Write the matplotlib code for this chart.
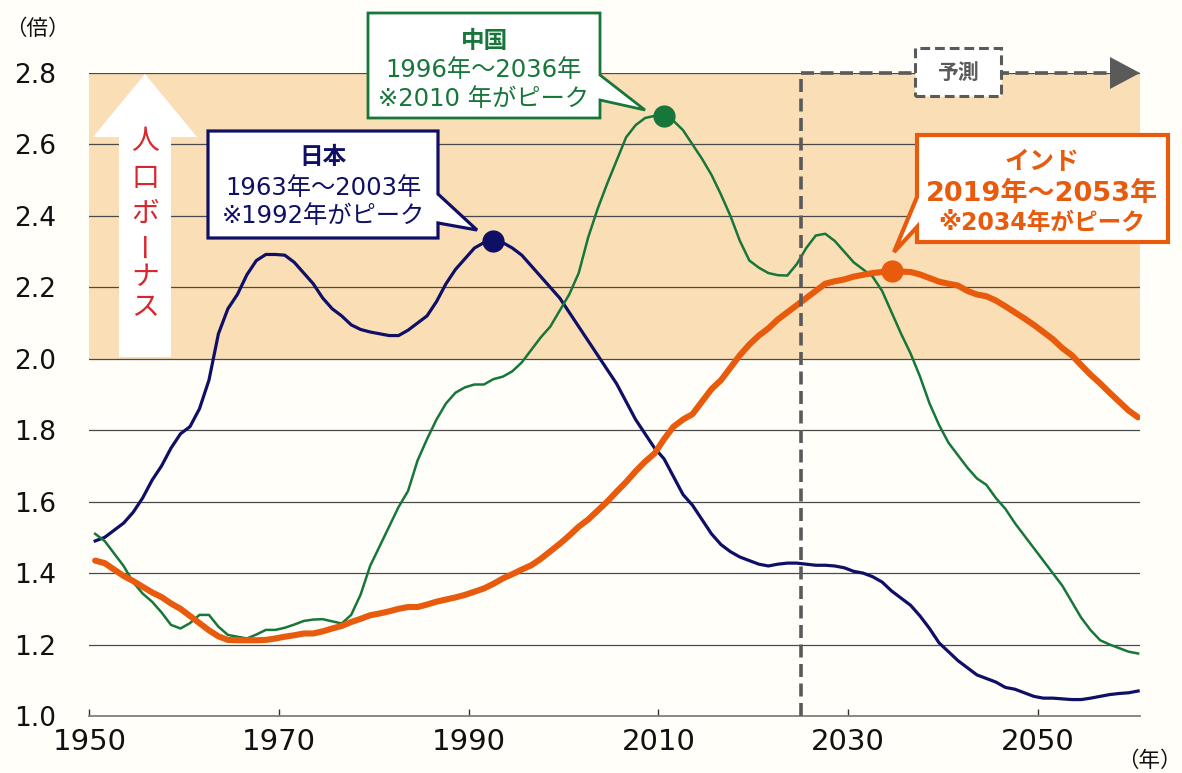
import matplotlib
matplotlib.use("Agg")
import matplotlib.pyplot as plt
from matplotlib.patches import Polygon, Rectangle

plt.rcParams['font.family'] = ['DejaVu Sans', 'Noto Sans CJK JP']

# ---------------- data ----------------
years = list(range(1950, 2061))

japan = [
    1.49, 1.50, 1.52, 1.54, 1.57, 1.61, 1.66, 1.70, 1.75, 1.79,
    1.81, 1.86, 1.94, 2.07, 2.14, 2.18, 2.235, 2.275, 2.292, 2.292,
    2.29, 2.27, 2.24, 2.21, 2.17, 2.14, 2.12, 2.095, 2.082, 2.075,
    2.07, 2.065, 2.065, 2.08, 2.10, 2.12, 2.16, 2.21, 2.25, 2.28,
    2.31, 2.325, 2.33, 2.325, 2.31, 2.29, 2.26, 2.23, 2.20, 2.17,
    2.13, 2.09, 2.05, 2.01, 1.97, 1.93, 1.88, 1.83, 1.79, 1.75,
    1.72, 1.67, 1.62, 1.59, 1.55, 1.51, 1.48, 1.46, 1.445, 1.435,
    1.425, 1.42, 1.425, 1.428, 1.428, 1.425, 1.422, 1.422, 1.42, 1.415,
    1.405, 1.40, 1.39, 1.375, 1.35, 1.33, 1.31, 1.28, 1.245, 1.205,
    1.18, 1.155, 1.135, 1.115, 1.105, 1.095, 1.08, 1.075, 1.065, 1.055,
    1.05, 1.05, 1.048, 1.046, 1.046, 1.05, 1.055, 1.06, 1.063, 1.065,
    1.07,
]

china = [
    1.51, 1.49, 1.455, 1.42, 1.375, 1.343, 1.32, 1.29, 1.255, 1.245,
    1.26, 1.283, 1.283, 1.25, 1.227, 1.222, 1.217, 1.228, 1.241, 1.241,
    1.247, 1.256, 1.266, 1.27, 1.271, 1.265, 1.259, 1.283, 1.34, 1.42,
    1.475, 1.53, 1.585, 1.63, 1.715, 1.775, 1.83, 1.875, 1.905, 1.92,
    1.928, 1.928, 1.943, 1.95, 1.965, 1.99, 2.025, 2.06, 2.09, 2.135,
    2.18, 2.24, 2.34, 2.42, 2.49, 2.555, 2.62, 2.654, 2.674, 2.68,
    2.68, 2.666, 2.64, 2.60, 2.56, 2.515, 2.46, 2.40, 2.33, 2.275,
    2.255, 2.24, 2.234, 2.233, 2.265, 2.31, 2.345, 2.35, 2.33, 2.30,
    2.27, 2.25, 2.23, 2.19, 2.13, 2.07, 2.015, 1.95, 1.875, 1.815,
    1.765, 1.73, 1.695, 1.665, 1.647, 1.61, 1.58, 1.54, 1.505, 1.47,
    1.435, 1.40, 1.365, 1.32, 1.275, 1.24, 1.212, 1.20, 1.19, 1.18,
    1.175,
]

india = [
    1.435, 1.428, 1.41, 1.392, 1.378, 1.362, 1.346, 1.333, 1.315, 1.30,
    1.28, 1.26, 1.24, 1.223, 1.213, 1.212, 1.212, 1.212, 1.213, 1.217,
    1.222, 1.226, 1.231, 1.231, 1.237, 1.245, 1.252, 1.263, 1.272, 1.282,
    1.287, 1.293, 1.30, 1.305, 1.305, 1.312, 1.32, 1.326, 1.332, 1.339,
    1.348, 1.357, 1.37, 1.385, 1.397, 1.41, 1.422, 1.44, 1.461, 1.482,
    1.505, 1.53, 1.55, 1.575, 1.60, 1.628, 1.655, 1.685, 1.712, 1.735,
    1.775, 1.81, 1.83, 1.845, 1.88, 1.915, 1.94, 1.975, 2.01, 2.04,
    2.065, 2.085, 2.11, 2.13, 2.15, 2.17, 2.19, 2.21, 2.217, 2.222,
    2.23, 2.235, 2.24, 2.243, 2.245, 2.244, 2.243, 2.236, 2.226, 2.216,
    2.21, 2.205, 2.19, 2.18, 2.175, 2.163, 2.147, 2.13, 2.113, 2.095,
    2.075, 2.055, 2.03, 2.01, 1.982, 1.955, 1.931, 1.905, 1.88, 1.855,
    1.836,
]

peak_years = {"japan": 1992, "china": 2010, "india": 2034}
xtick_years = [1950, 1970, 1990, 2010, 2030, 2050]
yticks = [1.0, 1.2, 1.4, 1.6, 1.8, 2.0, 2.2, 2.4, 2.6, 2.8]
bonus_threshold = 2.0
forecast_from = 2024.45

# ---------------- style ----------------
W, H = 1182, 773
BG = '#FFFEF9'
BAND = '#FADEB5'
NAVY = '#0F0F66'
GREEN = '#17763A'
ORANGE = '#E85A0C'
RED = '#D9262C'
GRAY = '#5A5A5A'
CJK = ['Noto Sans CJK JP', 'DejaVu Sans']
MIX = ['DejaVu Sans', 'Noto Sans CJK JP']

fig = plt.figure(figsize=(W / 100, H / 100), dpi=100, facecolor=BG)
ax = fig.add_axes([89 / W, 57 / H, 1051 / W, 643 / H])
ax.set_facecolor(BG)


def fx(px):
    return px / W


def fy(py):
    return 1 - py / H


def fpts(pts):
    return [(fx(x), fy(y)) for x, y in pts]


ax.set_xlim(1949.35, 2060.2)
ax.set_ylim(1.0, 2.8)

# demographic-bonus band
ax.axhspan(bonus_threshold, 2.8, color=BAND, zorder=0, lw=0)

# grid
ax.set_yticks(yticks)
ax.set_yticklabels([f"{v:.1f}" for v in yticks])
ax.yaxis.grid(True, color='#4a4a4a', lw=0.9)
ax.set_axisbelow(True)
ax.tick_params(axis='y', length=0, pad=24, labelsize=19, labelcolor='#111111')

ax.set_xticks([y - 0.6 for y in xtick_years])
ax.set_xticklabels([str(y) for y in xtick_years])
ax.tick_params(axis='x', direction='in', length=5, width=1, color='#333333',
               pad=9, labelsize=21, labelcolor='#111111')

for s in ['left', 'right', 'top']:
    ax.spines[s].set_visible(False)
ax.spines['bottom'].set_color('#808080')
ax.spines['bottom'].set_linewidth(1.3)

# white up-arrow
arrow = Polygon(fpts([(145, 74), (197, 137), (171, 137), (171, 357),
                      (119, 357), (119, 137), (93, 137)]),
                closed=True, transform=fig.transFigure, facecolor='white',
                edgecolor='none', zorder=2, clip_on=False)
ax.add_patch(arrow)
for ch, py in zip("人口ボ", [141, 178, 214]):
    ax.text(fx(145), fy(py), ch, transform=fig.transFigure, ha='center', va='center',
            fontsize=20, color=RED, family=CJK, zorder=3)
ax.text(fx(145), fy(244), "ー", transform=fig.transFigure, ha='center', va='center',
        fontsize=20, color=RED, family=CJK, rotation=90, zorder=3)
for ch, py in zip("ナス", [277, 307]):
    ax.text(fx(145), fy(py), ch, transform=fig.transFigure, ha='center', va='center',
            fontsize=20, color=RED, family=CJK, zorder=3)

# data lines
ax.plot(years, japan, color=NAVY, lw=2.3, zorder=4, solid_joinstyle='round')
ax.plot(years, china, color=GREEN, lw=1.8, zorder=4, solid_joinstyle='round')
ax.plot(years, india, color=ORANGE, lw=4.4, zorder=5, solid_joinstyle='round',
        solid_capstyle='round')

for key, series, col in [("japan", japan, NAVY), ("china", china, GREEN), ("india", india, ORANGE)]:
    yr = peak_years[key]
    ax.plot([yr], [series[years.index(yr)]], 'o', color=col, ms=16, zorder=6,
            markeredgewidth=0)

# forecast marker (dashed)
dash = dict(color=GRAY, lw=2.6, dashes=(3.6, 1.8), zorder=7, clip_on=False,
            solid_capstyle='butt')
ax.plot([forecast_from, forecast_from], [1.0, 2.8], **dash)
ax.plot([forecast_from, 2058.4], [2.8, 2.8], **dash)
tri = Polygon(fpts([(1110, 57), (1140, 73), (1110, 89)]), closed=True,
              transform=fig.transFigure, facecolor=GRAY, edgecolor='none',
              zorder=8, clip_on=False)
ax.add_patch(tri)
box = Rectangle((fx(915), fy(96)), fx(1001) - fx(915), fy(48) - fy(96),
                transform=fig.transFigure, facecolor='white', edgecolor=GRAY,
                lw=2.2, linestyle=(0, (3.2, 1.6)), zorder=8, clip_on=False)
ax.add_patch(box)
ax.text(fx(958), fy(72), "予測", transform=fig.transFigure, ha='center', va='center',
        fontsize=15, color=GRAY, family=CJK, fontweight='bold', zorder=9)


# callouts
def callout(pts, color, lw):
    p = Polygon(fpts(pts), closed=True, transform=fig.transFigure,
                facecolor='white', edgecolor=color, lw=lw, joinstyle='miter',
                zorder=10)
    fig.add_artist(p)


callout([(208, 131), (438, 131), (438, 194), (477, 230), (438, 223),
         (438, 238), (208, 238)], NAVY, 2.3)
fig.text(fx(323), fy(157), "日本", ha='center', va='center', fontsize=17,
         fontweight='bold', color=NAVY, family=CJK, zorder=11)
fig.text(fx(323), fy(188), "1963年～2003年", ha='center', va='center', fontsize=17.5,
         color=NAVY, family=MIX, zorder=11)
fig.text(fx(323), fy(216), "※1992年がピーク", ha='center', va='center', fontsize=17.5,
         color=NAVY, family=MIX, zorder=11)

callout([(368, 13), (600, 13), (600, 75), (645, 110), (600, 100),
         (600, 118), (368, 118)], GREEN, 2.0)
fig.text(fx(485), fy(41), "中国", ha='center', va='center', fontsize=17,
         fontweight='bold', color=GREEN, family=CJK, zorder=11)
fig.text(fx(484), fy(70), "1996年～2036年", ha='center', va='center', fontsize=17.5,
         color=GREEN, family=MIX, zorder=11)
fig.text(fx(484), fy(99), "※2010 年がピーク", ha='center', va='center', fontsize=17.5,
         color=GREEN, family=MIX, zorder=11)

callout([(917, 135), (1168, 135), (1168, 242), (917, 242), (917, 227),
         (894, 252), (917, 197)], ORANGE, 3.0)
fig.text(fx(1042), fy(162), "インド", ha='center', va='center', fontsize=18,
         fontweight='bold', color=ORANGE, family=CJK, zorder=11)
fig.text(fx(1042), fy(194), "2019年～2053年", ha='center', va='center', fontsize=19.5,
         fontweight='bold', color=ORANGE, family=MIX, zorder=11)
fig.text(fx(1042), fy(223), "※2034年がピーク", ha='center', va='center', fontsize=17,
         fontweight='bold', color=ORANGE, family=MIX, zorder=11)

# unit labels
fig.text(fx(37), fy(29), "（倍）", ha='center', va='center', fontsize=15.5,
         color='#111111', family=CJK)
fig.text(fx(1181.5), fy(761), "（年）", ha='right', va='center', fontsize=15.5,
         color='#111111', family=CJK)

fig.savefig("out.png", dpi=100, facecolor=BG)
